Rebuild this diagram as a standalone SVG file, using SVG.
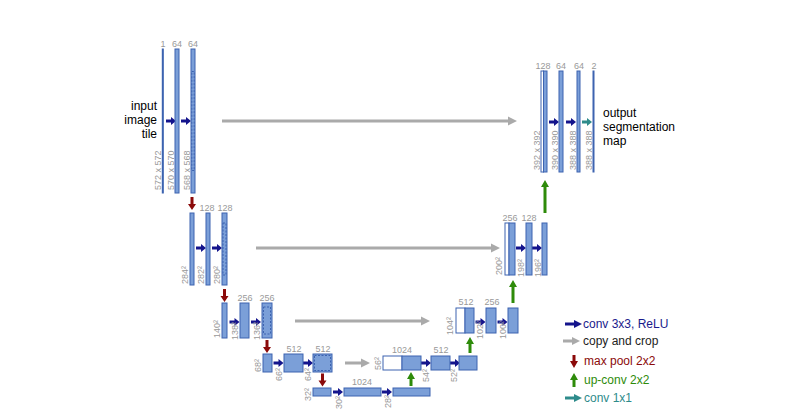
<svg xmlns="http://www.w3.org/2000/svg" width="807" height="417" viewBox="0 0 807 417">
<style>
.bar{fill:#7b9fd8;stroke:#3d63b0;stroke-width:1}
.wbar{fill:#ffffff;stroke:#3d63b0;stroke-width:1}
.crop{fill:none;stroke:#3d63b0;stroke-width:1;stroke-dasharray:2,1.5}
.n{font-family:"Liberation Sans",Arial,sans-serif;font-size:9px;fill:#999999}
.big{font-family:"Liberation Sans",Arial,sans-serif;font-size:12px;fill:#000000}
.c{text-anchor:middle}
</style>
<defs>
<path id="conv" d="M0,-1.6 H5 V-4 L10,0 L5,4 V1.6 H0 Z" fill="#14148c"/>
<path id="conv1" d="M0,-1.6 H5 V-4 L10,0 L5,4 V1.6 H0 Z" fill="#2e8b8b"/>
<path id="down" d="M-1.5,0 V7 H-4 L0,13 L4,7 H1.5 V0 Z" fill="#8b0a0a"/>
</defs>
<rect width="807" height="417" fill="#ffffff"/>

<g id="connectors">
  <!-- copy and crop -->
  <g fill="#aaaaaa" stroke="none">
    <path d="M222,119.6 H508 V116.5 L517,121 L508,125.5 V122.4 H222 Z"/>
    <path d="M256,246.6 H491 V243.5 L500,248 L491,252.5 V249.4 H256 Z"/>
    <path d="M295,319.6 H421 V316.5 L430,321 L421,325.5 V322.4 H295 Z"/>
    <path d="M345,361.6 H361 V358.5 L370,363 L361,367.5 V364.4 H345 Z"/>
  </g>
  <!-- conv 3x3 -->
  <use href="#conv" transform="translate(166,121)"/>
  <use href="#conv" transform="translate(181,121)"/>
  <use href="#conv" transform="translate(196,248)"/>
  <use href="#conv" transform="translate(212,248)"/>
  <use href="#conv" transform="translate(229.5,322)"/>
  <use href="#conv" transform="translate(251,322)"/>
  <use href="#conv" transform="translate(273.5,363)"/>
  <use href="#conv" transform="translate(303,363)"/>
  <use href="#conv" transform="translate(333,392)"/>
  <use href="#conv" transform="translate(382,392)"/>
  <use href="#conv" transform="translate(421,363)"/>
  <use href="#conv" transform="translate(450,363)"/>
  <use href="#conv" transform="translate(475.5,322)"/>
  <use href="#conv" transform="translate(497.5,322)"/>
  <use href="#conv" transform="translate(516,248)"/>
  <use href="#conv" transform="translate(532,248)"/>
  <use href="#conv" transform="translate(549,122)"/>
  <use href="#conv" transform="translate(566,122)"/>
  <use href="#conv1" transform="translate(582,122)"/>
  <!-- max pool -->
  <use href="#down" transform="translate(192,197)"/>
  <use href="#down" transform="translate(224.5,289)"/>
  <use href="#down" transform="translate(267,340)"/>
  <use href="#down" transform="translate(322.5,373.5)"/>
  <!-- up-conv -->
  <g fill="#2e8b0a">
    <path d="M409.5,386 V379 H407 L411,372 L415,379 H412.5 V386 Z"/>
    <path d="M468.5,353 V344 H466 L470,337 L474,344 H471.5 V353 Z"/>
    <path d="M511.5,303 V287 H509 L513,280 L517,287 H514.5 V303 Z"/>
    <path d="M543.5,213 V187 H541 L545,180 L549,187 H546.5 V213 Z"/>
  </g>
</g>

<!-- Level 1 left -->
<g id="l1_in">
  <rect class="bar" x="162.3" y="49" width="1" height="144"/>
  <text class="n c" x="163" y="47">1</text>
  <text class="n" transform="translate(161,190) rotate(-90)">572 x 572</text>
</g>
<g id="l1_c1">
  <rect class="bar" x="175" y="49" width="4" height="144"/>
  <text class="n c" x="177" y="47">64</text>
  <text class="n" transform="translate(174,190) rotate(-90)">570 x 570</text>
</g>
<g id="l1_c2">
  <rect class="bar" x="191" y="49" width="4" height="144"/>
  <rect class="crop" x="191.8" y="71.5" width="2.4" height="99"/>
  <text class="n c" x="193" y="47">64</text>
  <text class="n" transform="translate(190,190) rotate(-90)">568 x 568</text>
</g>
<g id="input_label">
  <text class="big" text-anchor="end" x="157" y="110">input</text>
  <text class="big" text-anchor="end" x="157" y="124">image</text>
  <text class="big" text-anchor="end" x="157" y="138">tile</text>
</g>

<!-- Level 2 left -->
<g id="l2_p">
  <rect class="bar" x="190" y="213" width="4" height="72"/>
  <text class="n" transform="translate(188,284) rotate(-90)">284²</text>
</g>
<g id="l2_c1">
  <rect class="bar" x="206" y="213" width="4" height="72"/>
  <text class="n c" x="207" y="211">128</text>
  <text class="n" transform="translate(204,284) rotate(-90)">282²</text>
</g>
<g id="l2_c2">
  <rect class="bar" x="222" y="213" width="5" height="72"/>
  <rect class="crop" x="223" y="223" width="3" height="52"/>
  <text class="n c" x="225" y="211">128</text>
  <text class="n" transform="translate(220,284) rotate(-90)">280²</text>
</g>

<!-- Level 3 left -->
<g id="l3_p">
  <rect class="bar" x="222" y="303" width="5" height="35"/>
  <text class="n" transform="translate(220,338) rotate(-90)">140²</text>
</g>
<g id="l3_c1">
  <rect class="bar" x="240" y="303" width="9" height="35"/>
  <text class="n c" x="245" y="301">256</text>
  <text class="n" transform="translate(238,340) rotate(-90)">138²</text>
</g>
<g id="l3_c2">
  <rect class="bar" x="262" y="303" width="10" height="35"/>
  <rect class="crop" x="263.5" y="307" width="7" height="27"/>
  <text class="n c" x="267" y="301">256</text>
  <text class="n" transform="translate(260,340) rotate(-90)">136²</text>
</g>

<!-- Level 4 left -->
<g id="l4_p">
  <rect class="bar" x="263" y="354" width="9" height="18"/>
  <text class="n" transform="translate(261,372) rotate(-90)">68²</text>
</g>
<g id="l4_c1">
  <rect class="bar" x="284" y="354" width="19" height="18"/>
  <text class="n c" x="294" y="352">512</text>
  <text class="n" transform="translate(282,381) rotate(-90)">66²</text>
</g>
<g id="l4_c2">
  <rect class="bar" x="313" y="354" width="19" height="18"/>
  <rect class="crop" x="314.5" y="355.5" width="16" height="15"/>
  <text class="n c" x="323" y="352">512</text>
  <text class="n" transform="translate(311,381) rotate(-90)">64²</text>
</g>

<!-- Bottom -->
<g id="l5_p">
  <rect class="bar" x="313" y="388" width="18" height="8"/>
  <text class="n" transform="translate(311,401) rotate(-90)">32²</text>
</g>
<g id="l5_c1">
  <rect class="bar" x="344" y="388" width="37" height="8"/>
  <text class="n c" x="362" y="385">1024</text>
  <text class="n" transform="translate(342,409) rotate(-90)">30²</text>
</g>
<g id="l5_c2">
  <rect class="bar" x="393" y="388" width="37" height="8"/>
  <text class="n" transform="translate(391,408) rotate(-90)">28²</text>
</g>

<!-- Level 4 right -->
<g id="l4_up">
  <rect class="wbar" x="383" y="356" width="19" height="14"/>
  <rect class="bar" x="402" y="356" width="19" height="14"/>
  <text class="n c" x="402" y="353">1024</text>
  <text class="n" transform="translate(381,370) rotate(-90)">56²</text>
</g>
<g id="l4_r1">
  <rect class="bar" x="431" y="356" width="19" height="14"/>
  <text class="n c" x="441" y="353">512</text>
  <text class="n" transform="translate(429,382) rotate(-90)">54²</text>
</g>
<g id="l4_r2">
  <rect class="bar" x="459" y="356" width="18" height="14"/>
  <text class="n" transform="translate(457,382) rotate(-90)">52²</text>
</g>

<!-- Level 3 right -->
<g id="l3_up">
  <rect class="wbar" x="456" y="308" width="9" height="25"/>
  <rect class="bar" x="465" y="308" width="9" height="25"/>
  <text class="n c" x="466" y="305">512</text>
  <text class="n" transform="translate(453,335) rotate(-90)">104²</text>
</g>
<g id="l3_r1">
  <rect class="bar" x="486" y="308" width="10" height="25"/>
  <text class="n c" x="492" y="305">256</text>
  <text class="n" transform="translate(483,339) rotate(-90)">102²</text>
</g>
<g id="l3_r2">
  <rect class="bar" x="508" y="308" width="10" height="25"/>
  <text class="n" transform="translate(506,339) rotate(-90)">100²</text>
</g>

<!-- Level 2 right -->
<g id="l2_up">
  <rect class="wbar" x="505" y="223" width="4" height="52"/>
  <rect class="bar" x="509" y="223" width="6" height="52"/>
  <text class="n c" x="510" y="221">256</text>
  <text class="n" transform="translate(502,275) rotate(-90)">200²</text>
</g>
<g id="l2_r1">
  <rect class="bar" x="526" y="223" width="6" height="52"/>
  <text class="n c" x="529" y="221">128</text>
  <text class="n" transform="translate(524,277) rotate(-90)">198²</text>
</g>
<g id="l2_r2">
  <rect class="bar" x="542" y="223" width="5" height="52"/>
  <text class="n" transform="translate(541,277) rotate(-90)">196²</text>
</g>

<!-- Level 1 right -->
<g id="l1_up">
  <rect class="wbar" x="541" y="71" width="2.5" height="101"/>
  <rect class="bar" x="543.5" y="71" width="3.5" height="101"/>
  <text class="n c" x="543" y="69">128</text>
  <text class="n" transform="translate(540,170) rotate(-90)">392 x 392</text>
</g>
<g id="l1_r1">
  <rect class="bar" x="559" y="71" width="4" height="101"/>
  <text class="n c" x="561" y="69">64</text>
  <text class="n" transform="translate(558,170) rotate(-90)">390 x 390</text>
</g>
<g id="l1_r2">
  <rect class="bar" x="577" y="71" width="3" height="101"/>
  <text class="n c" x="579" y="69">64</text>
  <text class="n" transform="translate(576,170) rotate(-90)">388 x 388</text>
</g>
<g id="l1_out">
  <rect class="bar" x="593" y="71" width="1" height="101"/>
  <text class="n c" x="594" y="69">2</text>
  <text class="n" transform="translate(592,170) rotate(-90)">388 x 388</text>
</g>
<g id="output_label">
  <text class="big" x="603" y="117">output</text>
  <text class="big" x="603" y="131">segmentation</text>
  <text class="big" x="603" y="145">map</text>
</g>

<!-- Legend -->
<g id="legend">
  <path d="M565,322.5 H574 V320 L582,324 L574,328 V325.5 H565 Z" fill="#14148c"/>
  <text class="big" x="583" y="328" fill="#1a1a8c" style="fill:#1a1a8c">conv 3x3, ReLU</text>
  <path d="M563,339.5 H572 V337 L580,341 L572,345 V342.5 H563 Z" fill="#aaaaaa"/>
  <text class="big" x="583" y="345" style="fill:#222222">copy and crop</text>
  <path d="M572.5,355 V361 H570 L574,368 L578,361 H575.5 V355 Z" fill="#8b0a0a"/>
  <text class="big" x="584" y="365" style="fill:#8b0a0a">max pool 2x2</text>
  <path d="M572.5,387 V380 H570 L574,373 L578,380 H575.5 V387 Z" fill="#2e8b0a"/>
  <text class="big" x="584" y="384" style="fill:#2e8b0a">up-conv 2x2</text>
  <path d="M565,396.5 H574 V394 L582,398 L574,402 V399.5 H565 Z" fill="#2e8b8b"/>
  <text class="big" x="584" y="402" style="fill:#2e8b8b">conv 1x1</text>
</g>
</svg>
